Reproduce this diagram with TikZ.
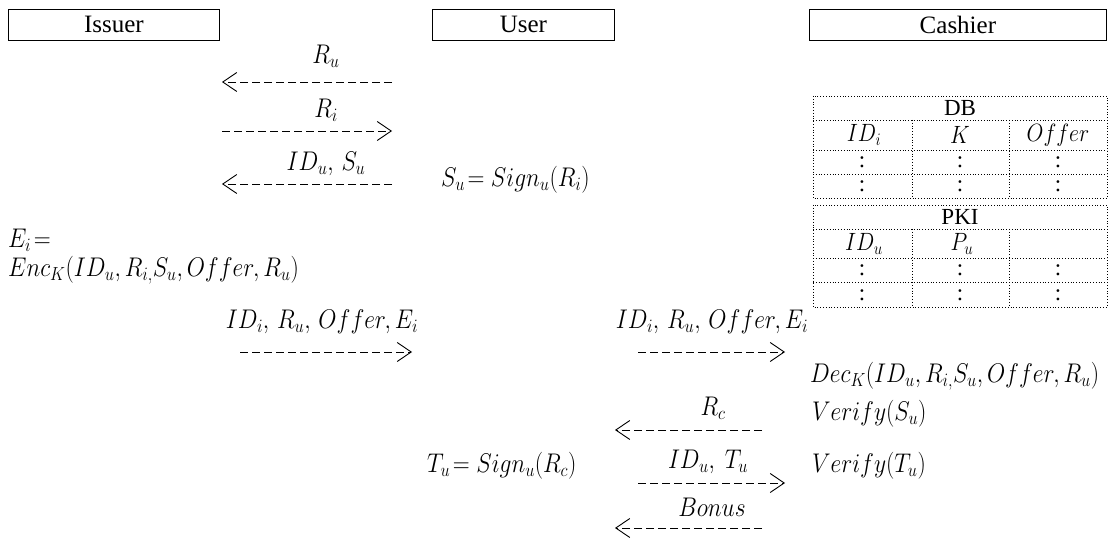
\RequirePackage{fix-cm}
\documentclass[tikz,border=0pt]{standalone}
\usepackage{graphicx}
\usepackage[no-math]{fontspec}
\setmainfont{Liberation Serif}
\usetikzlibrary{arrows.meta}
\newcommand{\nm}[1]{\scalebox{0.87}[1]{$#1$}}
\tikzset{
  actor/.style={draw, line width=0.8pt, minimum height=31pt, inner sep=0pt, anchor=north west, font=\fontsize{25}{25}\selectfont},
  msg/.style={dash pattern=on 8pt off 4pt, line width=0.8pt, -{Straight Barb[length=14pt,width=19pt,line width=0.9pt]}},
  lbl/.style={font=\fontsize{27}{27}\selectfont, inner sep=0pt},
  lft/.style={lbl, anchor=west},
  cell/.style={font=\fontsize{23}{23}\selectfont, inner sep=0pt},
  mcell/.style={font=\fontsize{25}{25}\selectfont, inner sep=0pt},
  tbl/.style={line width=0.8pt, dotted},
}
\begin{document}
\begin{tikzpicture}[x=1pt,y=-1pt]
\useasboundingbox (0,0) rectangle (1114,540);
% actors
\node[actor, minimum width=211pt] (issuer) at (8,9) {Issuer};
\node[actor, minimum width=182pt] (user) at (432,9) {User};
\node[actor, minimum width=297pt] (cashier) at (809,9) {Cashier};
% messages issuer <-> user
\node[lbl] (l1) at (326,56) {\nm{R_u}};
\coordinate (a1s) at (392,82); \coordinate (a1e) at (222,82);
\draw[msg] (a1s) -- (a1e);
\node[lbl] (l2) at (326,110) {\nm{R_i}};
\coordinate (a2s) at (222,131); \coordinate (a2e) at (392,131);
\draw[msg] (a2s) -- (a2e);
\node[lbl] (l3) at (326,164) {\nm{ID_u,\, S_u}};
\coordinate (a3s) at (392,184); \coordinate (a3e) at (222,184);
\draw[msg] (a3s) -- (a3e);
\node[lft] (su) at (441,180) {\nm{S_u\!=Sign_u(R_i)}};
% issuer computation
\node[lft] (ei) at (8,240) {\nm{E_i\!=}};
\node[lft] (enc) at (8,270) {\nm{Enc_K(ID_u, R_{i,}S_u, Offer, R_u)}};
\node[lbl] (l4) at (322,322) {\nm{ID_i,\, R_u,\, Offer, E_i}};
\coordinate (a4s) at (240,352); \coordinate (a4e) at (412,352);
\draw[msg] (a4s) -- (a4e);
% user -> cashier
\node[lbl] (l5) at (712,322) {\nm{ID_i,\, R_u,\, Offer, E_i}};
\coordinate (a5s) at (638,352); \coordinate (a5e) at (785,352);
\draw[msg] (a5s) -- (a5e);
\node[lft] (dec) at (810,376) {\nm{Dec_K(ID_u, R_{i,}S_u, Offer, R_u)}};
\node[lbl] (l6) at (713,408) {\nm{R_c}};
\coordinate (a6s) at (762,430); \coordinate (a6e) at (615,430);
\draw[msg] (a6s) -- (a6e);
\node[lft] (v1) at (812,414) {\nm{Verify(S_u)}};
\node[lft] (tu) at (427,466) {\nm{T_u\!=Sign_u(R_c)}};
\node[lbl] (l7) at (708,462) {\nm{ID_u,\ T_u}};
\coordinate (a7s) at (638,483); \coordinate (a7e) at (785,483);
\draw[msg] (a7s) -- (a7e);
\node[lft] (v2) at (812,466) {\nm{Verify(T_u)}};
\node[lbl] (l8) at (712,507) {\nm{Bonus}};
\coordinate (a8s) at (762,528); \coordinate (a8e) at (615,528);
\draw[msg] (a8s) -- (a8e);
% DB table
\draw[tbl] (813,96) rectangle (1107,198);
\foreach \y in {120,150,174} \draw[tbl] (813,\y) -- (1107,\y);
\foreach \x in {912,1009} \draw[tbl] (\x,120) -- (\x,198);
\node[cell] (db) at (960,108) {DB};
\node[mcell] (dbc1) at (864,135) {\nm{ID_i}};
\node[mcell] (dbc2) at (960,135) {\nm{K}};
\node[mcell] (dbc3) at (1058,135) {\nm{Offer}};
\foreach \y [count=\r] in {162,186}
  \foreach \x [count=\c] in {862,960,1058}
    \node[cell] (dbd\r\c) at (\x,\y) {:};
% PKI table
\draw[tbl] (813,205) rectangle (1107,307);
\foreach \y in {229,258,282} \draw[tbl] (813,\y) -- (1107,\y);
\foreach \x in {912,1009} \draw[tbl] (\x,229) -- (\x,307);
\node[cell] (pki) at (960,217) {PKI};
\node[mcell] (pkc1) at (864,244) {\nm{ID_u}};
\node[mcell] (pkc2) at (962,244) {\nm{P_u}};
\foreach \y [count=\r] in {270,295}
  \foreach \x [count=\c] in {862,960,1058}
    \node[cell] (pkd\r\c) at (\x,\y) {:};
\end{tikzpicture}
\end{document}
